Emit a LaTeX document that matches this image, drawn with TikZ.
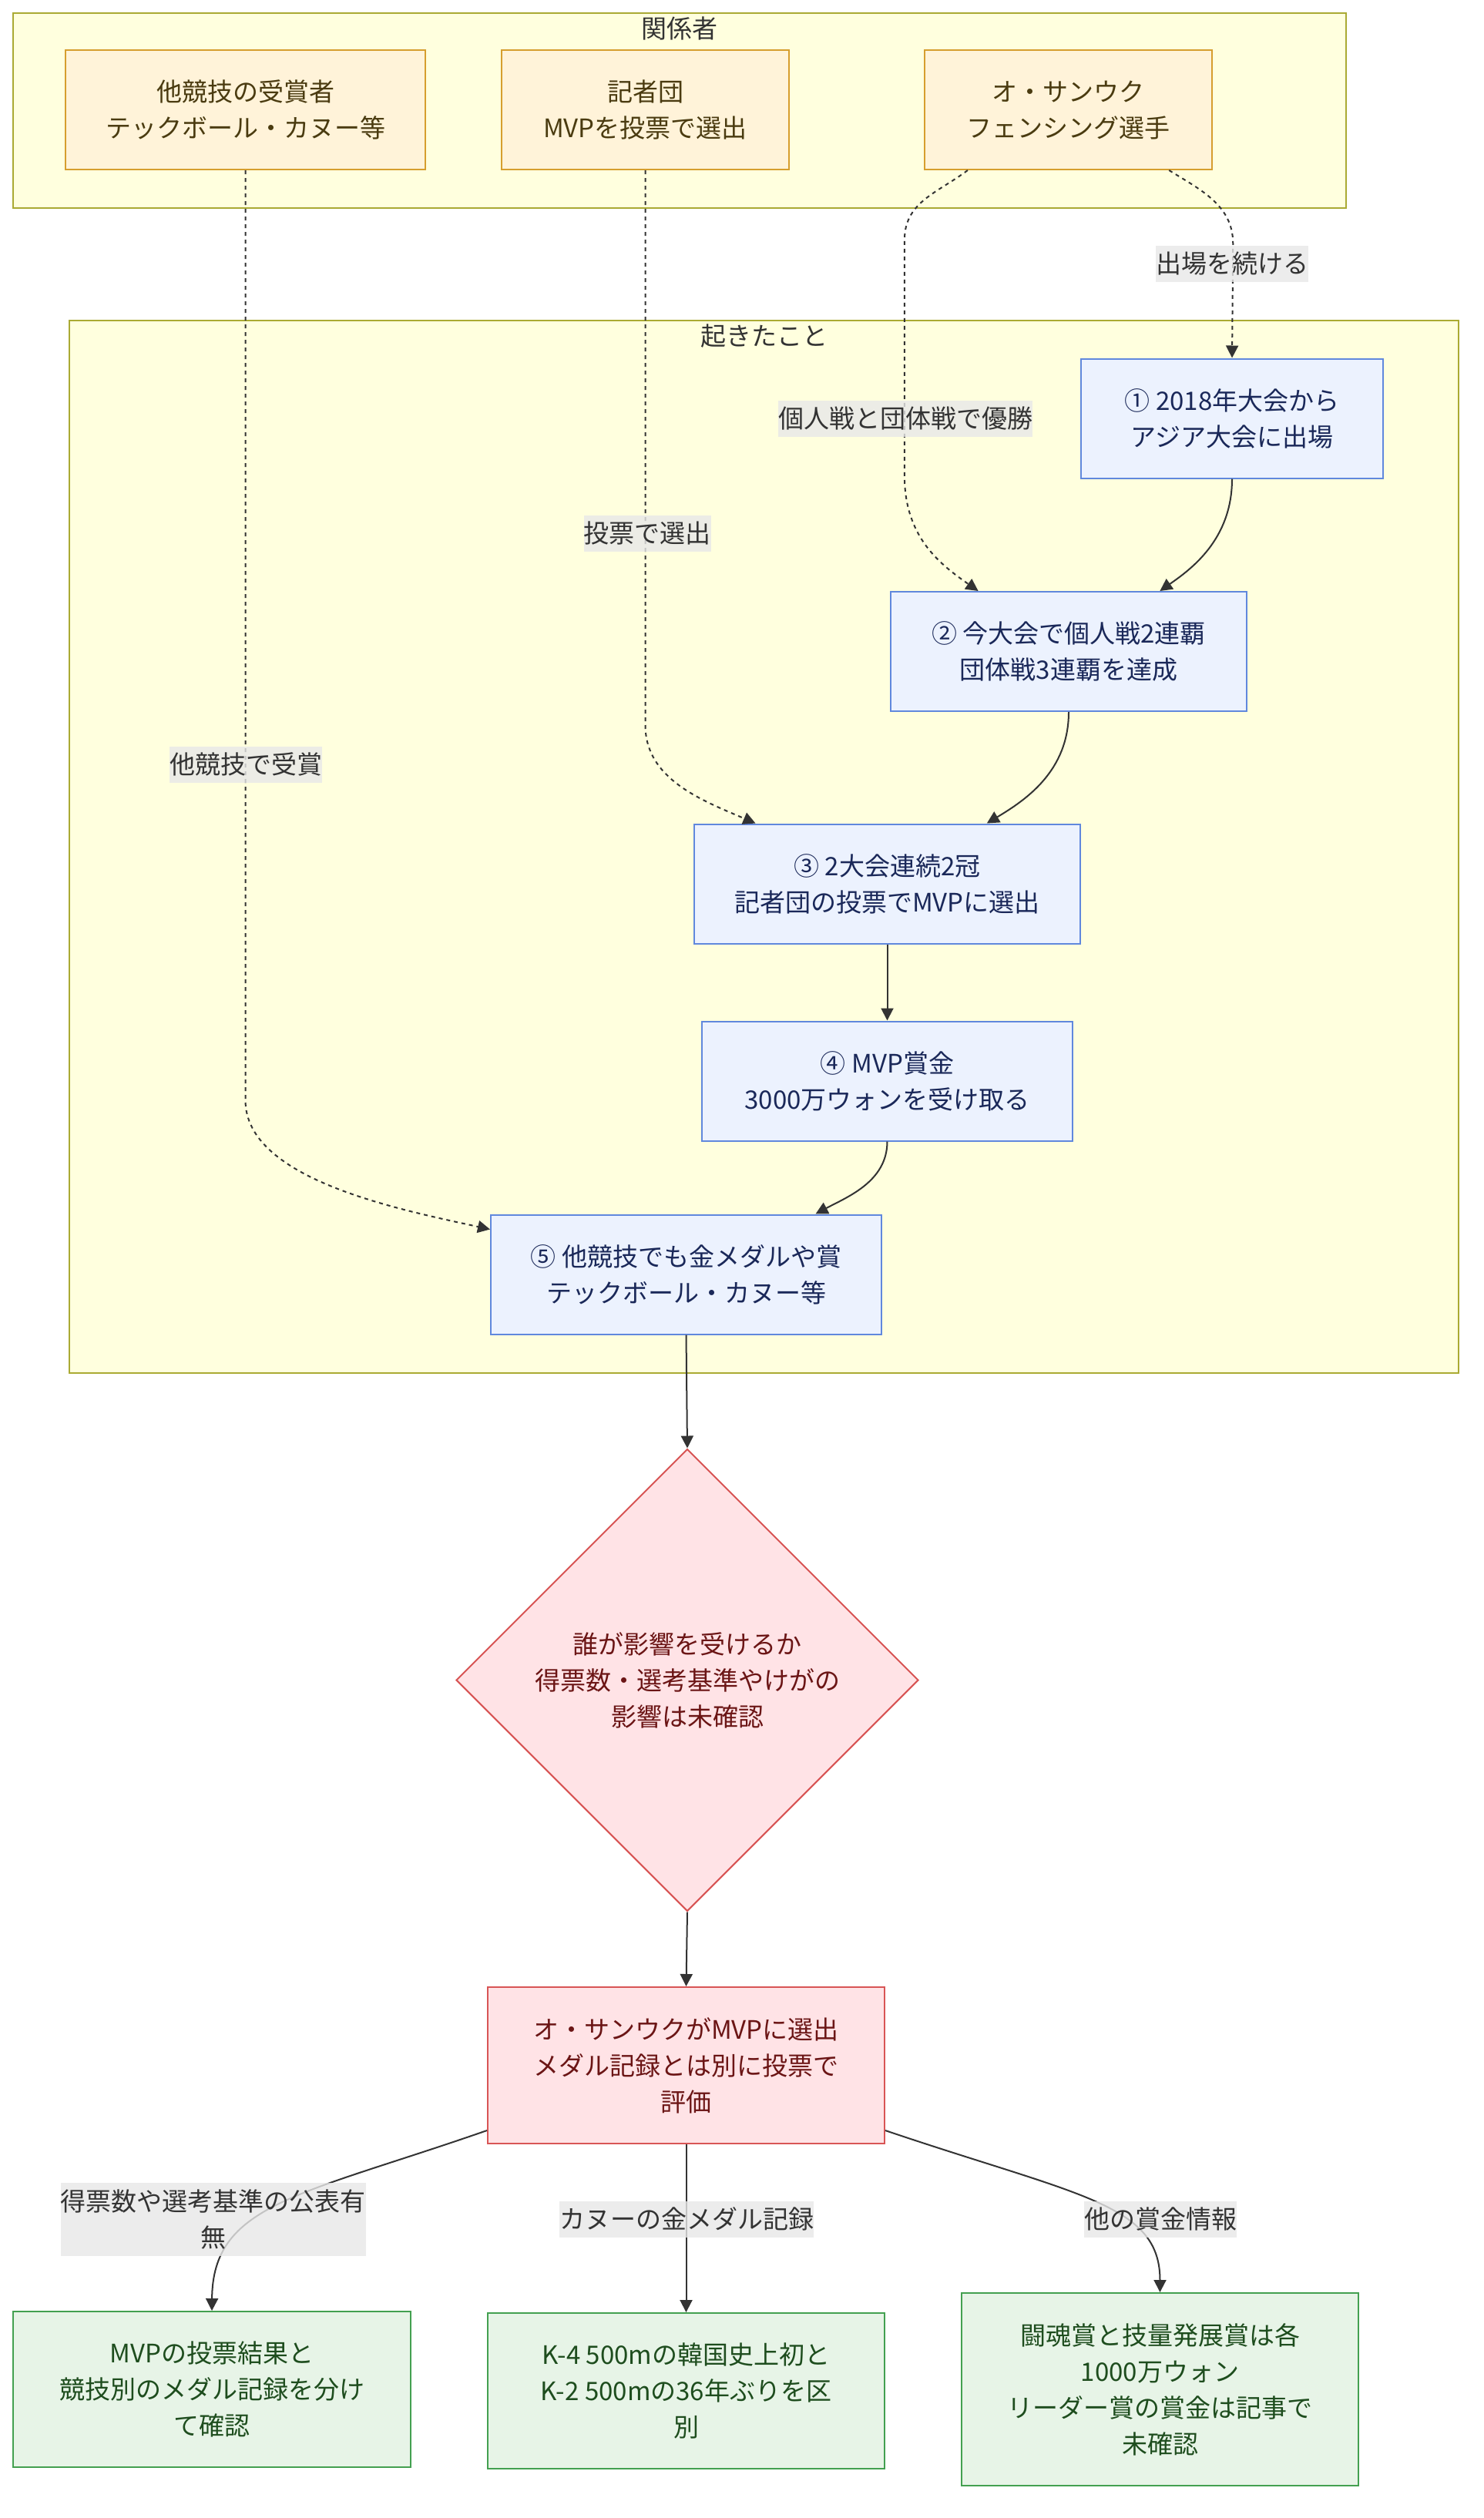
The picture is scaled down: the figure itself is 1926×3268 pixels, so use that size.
\documentclass[tikz,border=0pt]{standalone}
\usepackage{fontspec}
\setmainfont{Noto Sans CJK JP}
\usetikzlibrary{arrows.meta, positioning, shapes.geometric, calc}
\definecolor{cfill}{HTML}{FFFFDE}
\definecolor{cline}{HTML}{AAAA33}
\definecolor{corange}{HTML}{D69E2E}
\definecolor{corangebg}{HTML}{FFF3D9}
\definecolor{corangetx}{HTML}{4A3B10}
\definecolor{cblue}{HTML}{6088DD}
\definecolor{cbluebg}{HTML}{ECF2FE}
\definecolor{cbluetx}{HTML}{1A2859}
\definecolor{cred}{HTML}{D85555}
\definecolor{credbg}{HTML}{FFE3E6}
\definecolor{credtx}{HTML}{6B1515}
\definecolor{cgreen}{HTML}{43A050}
\definecolor{cgreenbg}{HTML}{E7F4E7}
\definecolor{cgreentx}{HTML}{1E4D1E}
\definecolor{cgrey}{HTML}{333333}
\definecolor{clabel}{HTML}{E8E8E8}
\tikzset{
  every picture/.style={font=\fontsize{33}{47}\selectfont, line width=2pt},
  cluster/.style={draw=cline, fill=cfill, inner sep=0pt},
  grouptitle/.style={text=cgrey, inner sep=0pt},
  box/.style={draw=#1, fill=#1bg, text=#1tx, align=center, inner sep=0pt},
  person/.style={box=corange, minimum height=155pt},
  event/.style={box=cblue, minimum height=155pt},
  issue/.style={box=cred},
  check/.style={box=cgreen},
  arrow/.style={-{Triangle[length=16pt, width=16pt]}, draw=cgrey},
  dotarrow/.style={arrow, dash pattern=on 5pt off 5pt},
  note/.style={fill=clabel, fill opacity=0.8, text opacity=1, text=cgrey, align=center, inner xsep=0pt, inner ysep=0pt, minimum height=47pt},
}

\begin{document}
\begin{tikzpicture}[x=1pt, y=-1pt]
  \path[use as bounding box, fill=white] (0,0) rectangle (1926,3268);

  \node[cluster, minimum width=1730pt, minimum height=253pt] (rel) at (882,143.5) {};
  \node[grouptitle] (relt) at (882,37) {関係者};
  \node[cluster, minimum width=1803pt, minimum height=1366pt] (hap) at (991.5,1099) {};
  \node[grouptitle] (hapt) at (992,436) {起きたこと};

  \node[person, minimum width=467pt] (oA) at (318.5,142.5) {他競技の受賞者\\テックボール・カヌー等};
  \node[person, minimum width=373pt] (oB) at (837.5,142.5) {記者団\\MVPを投票で選出};
  \node[person, minimum width=373pt] (oC) at (1386,142.5) {オ・サンウク\\フェンシング選手};

  \node[event, minimum width=392pt] (n1) at (1599,543) {① 2018年大会から\\アジア大会に出場};
  \node[event, minimum width=462pt] (n2) at (1387,845.5) {② 今大会で個人戦2連覇\\団体戦3連覇を達成};
  \node[event, minimum width=501pt] (n3) at (1151.5,1147) {③ 2大会連続2冠\\記者団の投票でMVPに選出};
  \node[event, minimum width=481pt, below=99pt of n3] (n4) {④ MVP賞金\\3000万ウォンを受け取る};
  \node[event, minimum width=507pt] (n5) at (890.5,1654) {⑤ 他競技でも金メダルや賞\\テックボール・カヌー等};

  \node[issue, diamond, minimum width=600pt, minimum height=600pt] (dia) at (892,2180.5) {誰が影響を受けるか\\得票数・選考基準やけがの\\影響は未確認};
  \node[issue, minimum width=515pt, minimum height=203pt] (red) at (890.5,2680.5) {オ・サンウクがMVPに選出\\メダル記録とは別に投票で\\評価};

  \node[check, minimum width=516pt, minimum height=202pt] (g1) at (275,3101) {MVPの投票結果と\\競技別のメダル記録を分け\\て確認};
  \node[check, minimum width=515pt, minimum height=202pt, below=218pt of red] (g2) {K-4 500mの韓国史上初と\\K-2 500mの36年ぶりを区\\別};
  \node[check, minimum width=515pt, minimum height=250pt] (g3) at (1505.5,3101) {闘魂賞と技量発展賞は各\\1000万ウォン\\リーダー賞の賞金は記事で\\未確認};

  \draw[dotarrow] (oA.south) -- ++(0,1207) .. controls +(0,103) and (520,1570) .. ($(n5.north west)+(0,20)$);
  \draw[dotarrow] (oB.south) -- ++(0,720) .. controls +(0,70) and +(-70,-30) .. ($(n3.north west)!0.16!(n3.north east)$);
  \draw[dotarrow] ($(oC.south west)!0.153!(oC.south east)$) .. controls +(-40,30) and +(0,-50) .. ++(-82,91) -- ++(0,305) .. controls +(0,80) and +(-50,-35) .. ($(n2.north west)!0.247!(n2.north east)$);
  \draw[dotarrow] ($(oC.south west)!0.85!(oC.south east)$) .. controls +(40,25) and +(0,-50) .. ++(83,95) -- (n1.north);
  \draw[arrow] (n1.south) .. controls +(0,79) and +(40,-28) .. ($(n2.north west)!0.755!(n2.north east)$);
  \draw[arrow] (n2.south) .. controls +(0,77) and +(50,-30) .. ($(n3.north west)!0.757!(n3.north east)$);
  \draw[arrow] (n3.south) -- (n4.north);
  \draw[arrow] (n4.south) .. controls +(0,52) and +(41,-22) .. ($(n5.north west)!0.83!(n5.north east)$);
  \draw[arrow] (n5.south) -- (dia.north);
  \draw[arrow] (dia.south) -- (red.north);
  \draw[arrow] ($(red.south west)+(0,-18)$) .. controls (388,2850) and (276,2860) .. (g1.north);
  \draw[arrow] (red.south) -- (g2.north);
  \draw[arrow] ($(red.south east)+(0,-18)$) .. controls (1400,2850) and (1505.5,2860) .. (g3.north);

  \node[note] (l1) at (1599,342) {出場を続ける};
  \node[note] (l2) at (1175,543) {個人戦と団体戦で優勝};
  \node[note] (l3) at (840,692) {投票で選出};
  \node[note] (l4) at (319,992) {他競技で受賞};
  \node[note, minimum height=95pt] (l5) at (276.5,2880) {得票数や選考基準の公表有\\無};
  \node[note] (l6) at (891,2880) {カヌーの金メダル記録};
  \node[note] (l7) at (1506,2880) {他の賞金情報};
\end{tikzpicture}
\end{document}
